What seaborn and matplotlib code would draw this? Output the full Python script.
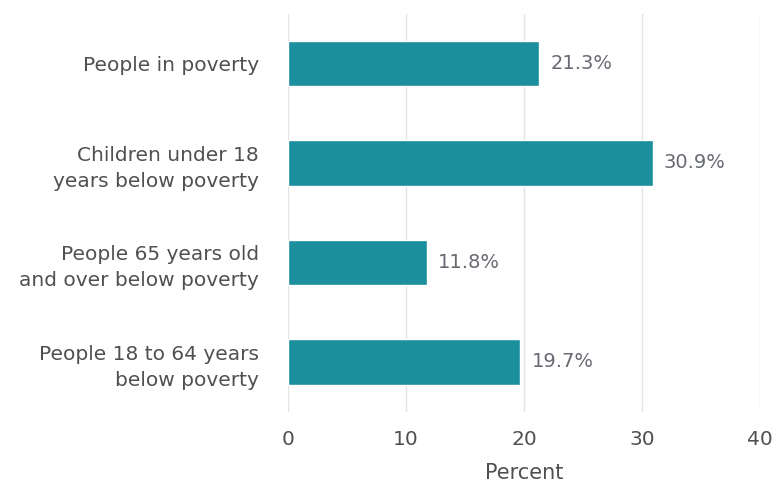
import numpy as np
import pandas as pd
import matplotlib
matplotlib.use("Agg")
import matplotlib.pyplot as plt
import seaborn as sns

categories = [
    "People in poverty",
    "Children under 18\nyears below poverty",
    "People 65 years old\nand over below poverty",
    "People 18 to 64 years\nbelow poverty",
]
percent = [21.3, 30.9, 11.8, 19.7]
x_ticks = [0, 10, 20, 30, 40]

BAR_COLOR = "#1b8f9d"
TEXT_COLOR = "#505050"

sns.set_style("white")
plt.rcParams["font.family"] = ["DejaVu Sans"]

df = pd.DataFrame({"category": categories, "percent": percent})

fig = plt.figure(figsize=(7.75, 4.84), dpi=100)
ax = fig.add_axes([0.3716, 0.1493, 0.609, 0.8223])

sns.barplot(data=df, x="percent", y="category", color=BAR_COLOR,
            saturation=1, width=0.46, ax=ax, zorder=3)

for i, v in enumerate(percent):
    ax.annotate(f"{v}%", (v, i), xytext=(8, 0), textcoords="offset points",
                va="center", ha="left", fontsize=14, color="#676a72")

ax.set_xlim(0, 40)
ax.set_ylim(3.5, -0.5)
ax.set_xticks(x_ticks)
ax.set_xticklabels([str(t) for t in x_ticks], fontsize=14.5, color=TEXT_COLOR)
ax.tick_params(axis="y", labelsize=14.5, labelcolor=TEXT_COLOR, length=0, pad=21)
ax.tick_params(axis="x", length=0, pad=13)
for lbl in ax.get_yticklabels():
    lbl.set_horizontalalignment("right")
    lbl.set_multialignment("right")
    lbl.set_linespacing(1.45)
ax.set_ylabel("")
ax.set_xlabel("Percent", fontsize=15, color=TEXT_COLOR, labelpad=10)

ax.grid(axis="x", color="#e3e3e3", linewidth=1, zorder=0)
for s in ax.spines.values():
    s.set_visible(False)

fig.savefig("out.png", dpi=100)
